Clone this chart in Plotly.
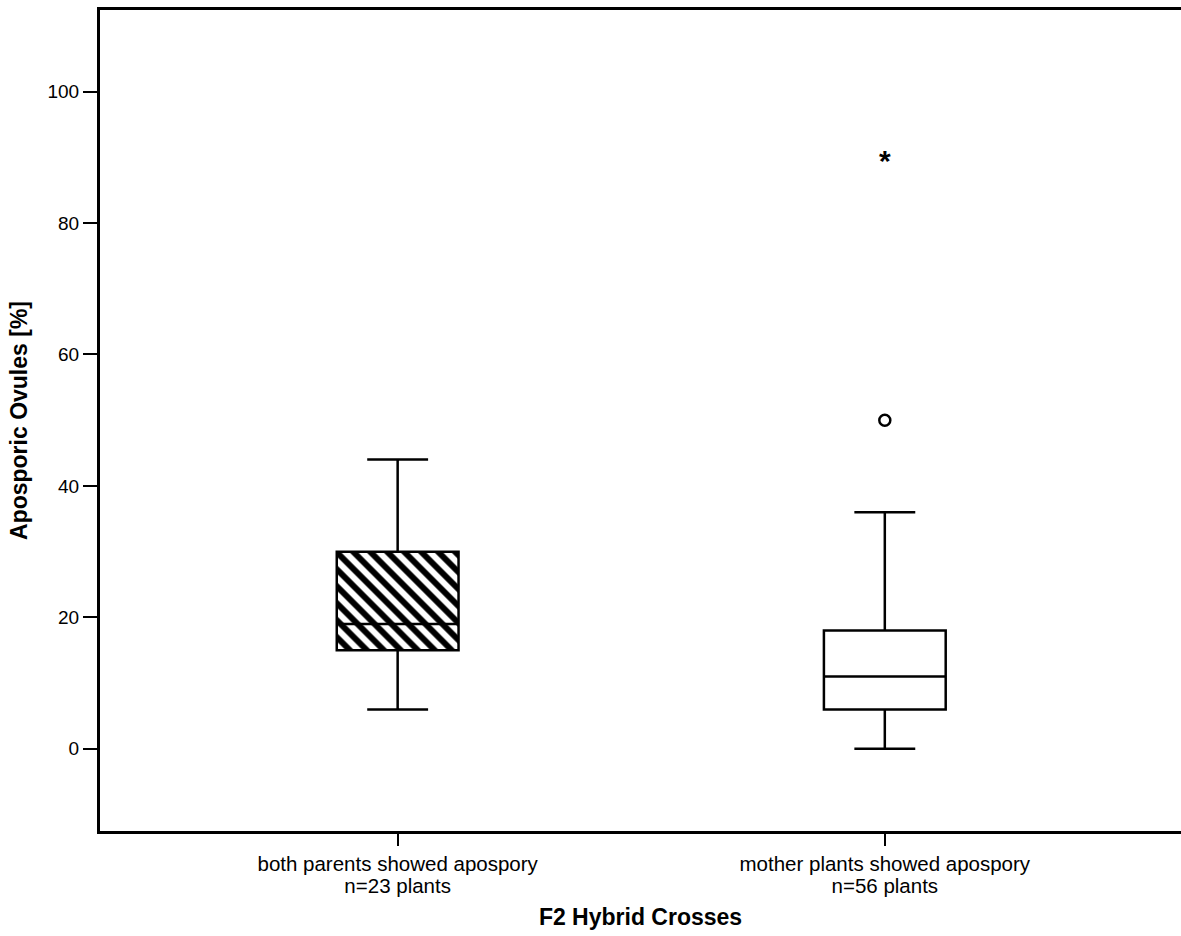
import plotly.graph_objects as go

categories = ["both parents showed apospory", "mother plants showed apospory"]
sample_sizes = ["n=23 plants", "n=56 plants"]
lower_whisker = [6, 0]
q1 = [15, 6]
median = [19, 11]
q3 = [30, 18]
upper_whisker = [44, 36]
outlier_circle_cat = [categories[1]]
outlier_circle_val = [50]
outlier_star_cat = [categories[1]]
outlier_star_val = [89]
y_ticks = [0, 20, 40, 60, 80, 100]

FONT = "Liberation Sans, Arial, sans-serif"
XRANGE = [-0.611, 1.608]

fig = go.Figure()

# hatched fill for first box
fig.add_trace(go.Bar(
    x=[categories[0]], y=[q3[0] - q1[0]], base=[q1[0]], width=0.25,
    marker=dict(color="white", line=dict(width=0),
                pattern=dict(shape="\\", fgcolor="black", bgcolor="white",
                             fgopacity=1, size=12, solidity=0.5)),
    showlegend=False, hoverinfo="skip"))

# white fill for second box
fig.add_trace(go.Bar(
    x=[categories[1]], y=[q3[1] - q1[1]], base=[q1[1]], width=0.25,
    marker=dict(color="white", line=dict(width=0)),
    showlegend=False, hoverinfo="skip"))

fig.add_trace(go.Box(
    x=categories, q1=q1, median=median, q3=q3,
    lowerfence=lower_whisker, upperfence=upper_whisker,
    width=0.25, whiskerwidth=0.5,
    fillcolor="rgba(0,0,0,0)",
    line=dict(color="black", width=2.5),
    boxpoints=False, showlegend=False))

fig.add_trace(go.Scatter(
    x=outlier_circle_cat, y=outlier_circle_val, mode="markers",
    marker=dict(symbol="circle-open", size=11, color="black",
                line=dict(width=2.5, color="black")),
    showlegend=False))

fig.add_trace(go.Scatter(
    x=outlier_star_cat, y=outlier_star_val, mode="text",
    text=["*"], textposition="middle center",
    textfont=dict(family=FONT, size=30, color="black", weight="bold"),
    showlegend=False))

# carrier for the second line of category labels (sample sizes)
fig.add_trace(go.Scatter(
    x=sample_sizes, y=median, xaxis="x2", mode="markers",
    marker=dict(opacity=0, size=1), showlegend=False, hoverinfo="skip"))

fig.update_layout(
    width=1181, height=936,
    margin=dict(l=100, r=0, t=10, b=105),
    paper_bgcolor="white", plot_bgcolor="white",
    font=dict(family=FONT, color="black"),
    bargap=0,
    xaxis=dict(
        type="category", categoryarray=categories,
        range=XRANGE, showgrid=False, zeroline=False,
        showline=True, linecolor="black", linewidth=3, mirror=True,
        ticks="outside", ticklen=12, tickwidth=1.5, tickcolor="black",
        tickfont=dict(size=20.5), ticklabelstandoff=0,
        fixedrange=True),
    xaxis2=dict(
        overlaying="x", anchor="y", side="bottom", type="category",
        categoryarray=sample_sizes,
        range=XRANGE, showgrid=False, zeroline=False, showline=False,
        ticks="outside", ticklen=12, tickcolor="rgba(0,0,0,0)",
        tickfont=dict(size=20.5), ticklabelstandoff=24,
        title=dict(text="<b>F2 Hybrid Crosses</b>", font=dict(size=23), standoff=13),
        fixedrange=True),
    yaxis=dict(
        range=[-12.5, 112.4], showgrid=False, zeroline=False,
        showline=True, linecolor="black", linewidth=3,
        tickvals=y_ticks, ticks="outside", ticklen=14, tickwidth=2,
        tickcolor="black", tickfont=dict(size=19), ticklabelstandoff=0,
        title=dict(text="<b>Aposporic Ovules [%]</b>", font=dict(size=23), standoff=14),
        fixedrange=True),
)

fig.write_html("out.html")
